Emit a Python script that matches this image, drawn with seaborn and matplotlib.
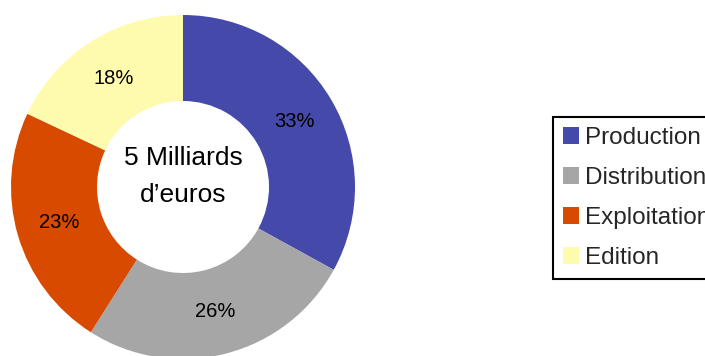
import matplotlib
matplotlib.use("Agg")
import matplotlib.pyplot as plt
import seaborn as sns

# Répartition du chiffre d'affaires de la filière
categories = ["Production", "Distribution", "Exploitation", "Edition"]
shares = [33, 26, 23, 18]
colors = ["#4449AA", "#A6A6A6", "#D84A00", "#FFFBAE"]
center_label = "5 Milliards\nd\u2019euros"

sns.set_theme(style="white")
plt.rcParams["font.family"] = ["Liberation Sans", "DejaVu Sans"]

W, H = 705, 356
fig = plt.figure(figsize=(W / 100, H / 100), dpi=100)
fig.patch.set_facecolor("white")

cx, cy, r = 183, 169, 172  # donut centre and radius in pixels
ax = fig.add_axes([(cx - r) / W, (cy - r) / H, 2 * r / W, 2 * r / H])

wedges, texts, autotexts = ax.pie(
    shares,
    colors=colors,
    startangle=90,
    counterclock=False,
    radius=1.0,
    autopct=lambda p: f"{p:.0f}%",
    pctdistance=0.75,
    wedgeprops=dict(width=0.5, linewidth=0),
    textprops=dict(fontsize=14.5, color="black"),
)
ax.set_xlim(-1, 1)
ax.set_ylim(-1, 1)
ax.set_axis_off()

ax.text(0, 0.06, center_label, ha="center", va="center",
        fontsize=19, linespacing=1.68, color="black")

leg = fig.legend(
    wedges, categories,
    loc="upper left",
    bbox_to_anchor=(553 / W, (H - 117) / H),
    bbox_transform=fig.transFigure,
    borderaxespad=0,
    frameon=True,
    fancybox=False,
    shadow=False,
    fontsize=17.5,
    handlelength=0.66,
    handleheight=0.66,
    handletextpad=0.25,
    labelspacing=0.74,
    borderpad=0.42,
)
frame = leg.get_frame()
frame.set_edgecolor("black")
frame.set_linewidth(1.5)
frame.set_facecolor("white")
frame.set_alpha(1)

fig.savefig("out.png", dpi=100)
